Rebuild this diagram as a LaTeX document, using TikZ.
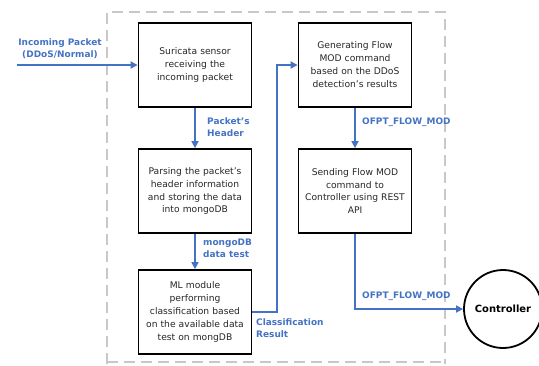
\documentclass[tikz,border=0pt]{standalone}
\usepackage{fontspec}
\setmainfont{DejaVu Sans}
\usetikzlibrary{arrows.meta}
\definecolor{flowblue}{HTML}{4472C4}
\definecolor{dashgray}{HTML}{C8C8C8}
\definecolor{boxtext}{HTML}{262626}
\begin{document}
\begin{tikzpicture}[x=1bp,y=-1bp,
  procbox/.style={draw=black,line width=1.8bp,minimum width=113bp,minimum height=84bp,
    text width=110bp,align=center,font=\fontsize{9.2}{13}\selectfont,text=boxtext,inner sep=0pt},
  flow/.style={draw=flowblue,line width=1.6bp,-{Triangle[length=7bp,width=7bp]}},
  lbl/.style={text=flowblue,font=\fontsize{9}{12}\selectfont\bfseries,inner sep=0pt}]
\useasboundingbox (0,0) rectangle (539,365);
% container
\draw[dashgray,line width=1.5bp,dash pattern=on 11bp off 6bp] (107,364) -- (107,12) -- (445,12) -- (445,364);
\draw[dashgray,line width=1.5bp,dash pattern=on 11bp off 6bp] (107,362) -- (445,362);
% boxes
\node[procbox] (b1) at (195,65) {Suricata sensor\\receiving the\\incoming packet};
\node[procbox] (b2) at (195,191) {Parsing the packet’s\\header information\\and storing the data\\into mongoDB};
\node[procbox] (b3) at (195,312) {ML module\\performing\\classification based\\on the available data\\test on mongDB};
\node[procbox] (b4) at (355,65) {Generating Flow\\MOD command\\based on the DDoS\\detection’s results};
\node[procbox] (b5) at (355,191) {Sending Flow MOD\\command to\\Controller using REST\\API};
\node[draw=black,line width=1.8bp,circle,minimum size=78bp,inner sep=0pt,font=\fontsize{10}{12}\selectfont\bfseries] (ctrl) at (503,309) {Controller};
% connectors
\coordinate (in) at (17,65);
\draw[flow] (in) -- (b1.west);
\draw[flow] (b1.south) -- (b2.north);
\draw[flow] (b2.south) -- (b3.north);
\draw[flow] (b3.east |- 0,312) -| (277,65) -- (b4.west);
\draw[flow] (b4.south) -- (b5.north);
\draw[flow] (b5.south) |- (ctrl.west);
% labels
\node[lbl,align=center] (l1) at (60,49) {Incoming Packet\\(DDoS/Normal)};
\node[lbl,align=left,anchor=west] (l2) at (207,127) {Packet’s\\Header};
\node[lbl,align=left,anchor=west] (l3) at (203,248) {mongoDB\\data test};
\node[lbl,align=left,anchor=west] (l4) at (256,328) {Classification\\Result};
\node[lbl,anchor=west] (l5) at (362,122) {OFPT\_FLOW\_MOD};
\node[lbl,anchor=west] (l6) at (362,296) {OFPT\_FLOW\_MOD};
\end{tikzpicture}
\end{document}
